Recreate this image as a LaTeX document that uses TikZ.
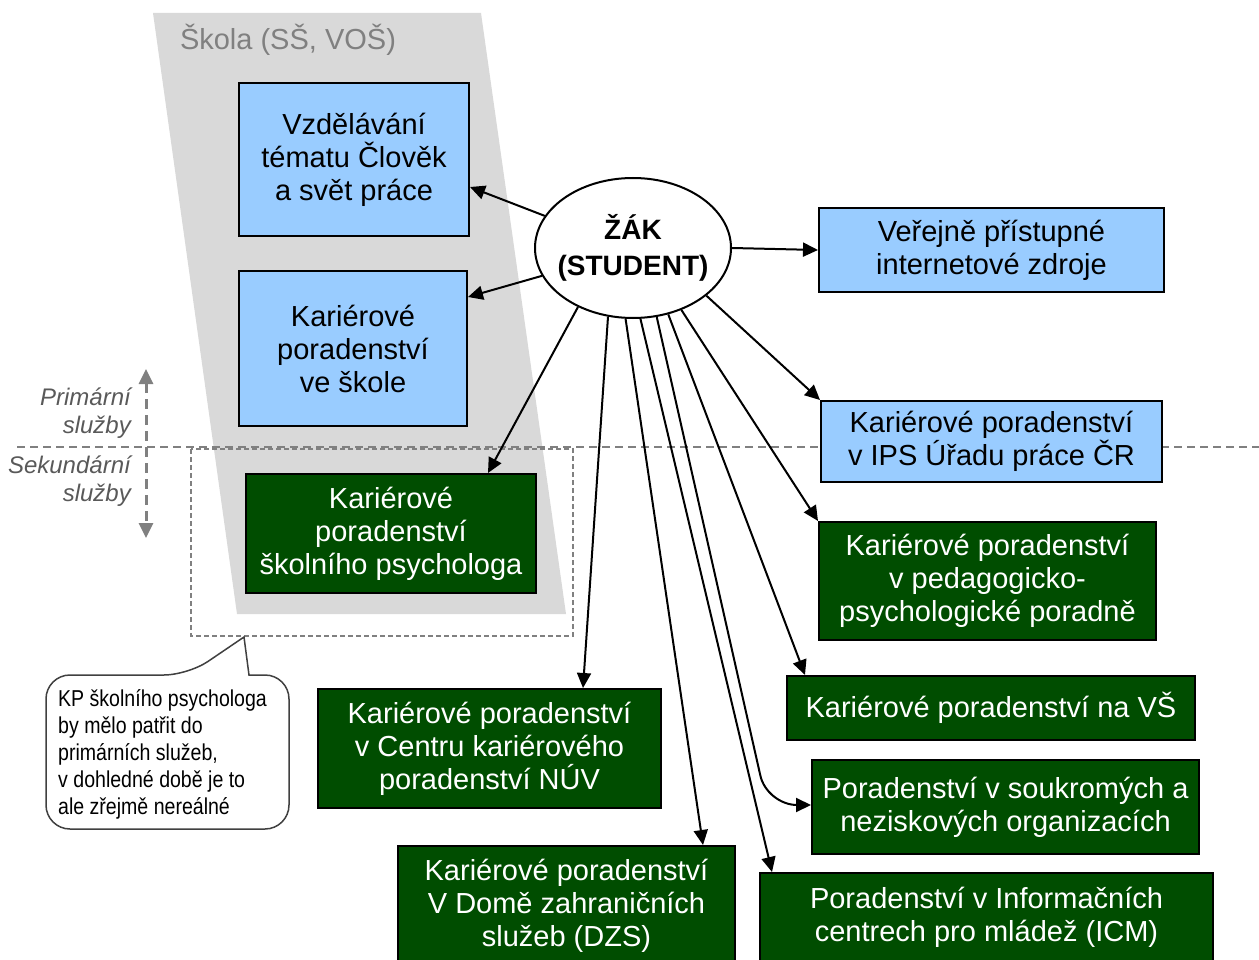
\documentclass[tikz,border=0pt]{standalone}
\usepackage{fontspec}
\setmainfont{Liberation Sans}
\newfontfamily\narrowfont[FakeStretch=0.85]{Liberation Sans}
\usetikzlibrary{arrows.meta,shapes.geometric}
\definecolor{boxblue}{HTML}{99CCFF}
\definecolor{boxgreen}{HTML}{004D00}
\definecolor{schoolgray}{HTML}{D9D9D9}
\definecolor{labelgray}{HTML}{595959}
\definecolor{linegray}{HTML}{808080}
\begin{document}
\begin{tikzpicture}[x=1pt, y=-1pt,
    bluebox/.style={draw=black, line width=2pt, fill=boxblue, align=center, inner sep=0pt,
        font=\fontsize{29}{33}\selectfont},
    greenbox/.style={bluebox, fill=boxgreen, text=white},
    arr/.style={line width=2pt, -{Triangle[length=15pt,width=14pt]}},
    svc/.style={labelgray, align=right, inner sep=0pt, font=\fontsize{24}{28}\selectfont\itshape},
    divider/.style={linegray, line width=2pt, dash pattern=on 8pt off 5pt}]
    \useasboundingbox (0,0) rectangle (1259,960);
    % School area
    \fill[schoolgray] (153,13) -- (481,13) -- (566,614) -- (237,614) -- cycle;
    \node[linegray, font=\fontsize{29}{33}\selectfont] (skola) at (288,40) {Škola (SŠ, VOŠ)};
    % Primary / secondary services
    \draw[divider] (17,447) -- (1259,447);
    \draw[linegray, line width=3pt, dash pattern=on 10pt off 6pt,
        {Triangle[length=15pt,width=14pt]}-{Triangle[length=15pt,width=14pt]}] (146,369) -- (146,538);
    \node[svc, anchor=east] (prim) at (131,413) {Primární\\služby};
    \node[svc, anchor=east] (sek) at (131,481) {Sekundární\\služby};
    \draw[linegray, line width=1.5pt, dash pattern=on 5pt off 3pt] (191,449) rectangle (573,636);
    % Callout
    \draw[fill=white, draw=black!75, line width=1.5pt] (188,675) [sharp corners] -- (244,637) -- (249,675)
        [rounded corners=24pt] -- (289,675) -- (289,829) -- (46,829) -- (46,675) -- cycle;
    \node[align=left, anchor=west, inner sep=0pt, font=\fontsize{23}{27}\narrowfont] (note) at (58,754)
        {KP školního psychologa\\by mělo patřit do\\primárních služeb,\\v dohledné době je to\\ale zřejmě nereálné};
    % Student
    \node[ellipse, draw, fill=white, line width=2pt, minimum width=196pt, minimum height=140pt, inner sep=0pt] (zak) at (633,248) {};
    \node[align=center, inner sep=0pt, font=\fontsize{28}{36}\selectfont\bfseries] (zaktext) at (zak) {ŽÁK\\(STUDENT)};
    % Services
    \node[bluebox, minimum width=230pt, minimum height=153pt] (edu) at (354,159.5) {Vzdělávání\\tématu Člověk\\a svět práce};
    \node[bluebox, minimum width=228pt, minimum height=155pt] (kpskola) at (353,348.5) {Kariérové\\poradenství\\ve škole};
    \node[greenbox, minimum width=290pt, minimum height=119pt] (psych) at (391,533.5) {Kariérové\\poradenství\\školního psychologa};
    \node[bluebox, minimum width=345pt, minimum height=84pt] (web) at (991.5,250) {Veřejně přístupné\\internetové zdroje};
    \node[bluebox, minimum width=341pt, minimum height=81pt] (ips) at (991.5,441.5) {Kariérové poradenství\\v IPS Úřadu práce ČR};
    \node[greenbox, minimum width=337pt, minimum height=118pt] (ppp) at (987.5,581) {Kariérové poradenství\\v pedagogicko-\\psychologické poradně};
    \node[greenbox, minimum width=408pt, minimum height=64pt] (vs) at (991,708) {Kariérové poradenství na VŠ};
    \node[greenbox, minimum width=387pt, minimum height=94pt] (sok) at (1005.5,807) {Poradenství v soukromých a\\neziskových organizacích};
    \node[greenbox, minimum width=453pt, minimum height=89pt] (icm) at (986.5,917.5) {Poradenství v Informačních\\centrech pro mládež (ICM)};
    \node[greenbox, minimum width=337pt, minimum height=120pt] (dzs) at (566.5,906) {Kariérové poradenství\\V Domě zahraničních\\služeb (DZS)};
    \node[greenbox, minimum width=343pt, minimum height=119pt] (nuv) at (489.5,748.5) {Kariérové poradenství\\v Centru kariérového\\poradenství NÚV};
    % Arrows from student
    \draw[arr] (zak.160) -- ([yshift=-27.5pt]edu.east);
    \draw[arr] (zak.197) -- ([yshift=51.5pt]kpskola.east);
    \draw[arr] (zak.-133) -- ([xshift=97pt]psych.north);
    \draw[arr] (zak.east) -- (web.west);
    \draw[arr] (zak.-33) -- (ips.north west);
    \draw[arr] (zak.-52) -- (ppp.north west);
    \draw[arr] (zak.-110) -- ([xshift=93.5pt]nuv.north);
    \draw[arr] (zak.-96) -- ([xshift=136.5pt]dzs.north);
    \draw[arr] (zak.-84) -- ([xshift=-214.5pt]icm.north);
    \draw[arr] (zak.-71) [rounded corners=30pt] -- ([xshift=-44pt,yshift=2pt]sok.west) -- ([yshift=2pt]sok.west);
    \draw[arr] (zak.-62) -- ([xshift=-186pt]vs.north);
\end{tikzpicture}
\end{document}
